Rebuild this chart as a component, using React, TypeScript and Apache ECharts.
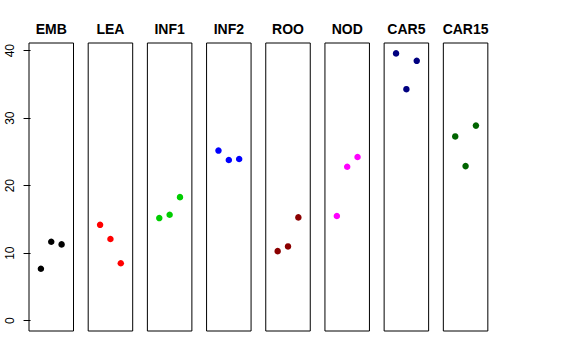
import React, { useEffect, useRef } from "react";
import * as echarts from "echarts";

const panels = ["EMB", "LEA", "INF1", "INF2", "ROO", "NOD", "CAR5", "CAR15"];
const colors = ["#000000", "#FF0000", "#00CD00", "#0000FF", "#8B0000", "#FF00FF", "#000080", "#006400"];
const positions = [1, 2, 3];
const values: number[][] = [
  [7.7, 11.7, 11.3],
  [14.2, 12.1, 8.5],
  [15.2, 15.7, 18.3],
  [25.2, 23.8, 23.95],
  [10.3, 11.0, 15.3],
  [15.5, 22.8, 24.25],
  [39.6, 34.3, 38.5],
  [27.3, 22.9, 28.9],
];
const yTicks = [0, 10, 20, 30, 40];

const FONT = '"Liberation Sans", Arial, Helvetica, sans-serif';

export default function App() {
  const ref = useRef<HTMLDivElement>(null);
  useEffect(() => {
    if (!ref.current) return;
    const chart = echarts.init(ref.current, undefined, { renderer: "svg" });
    const left0 = 29;
    const step = 59.19;
    const w = 44.5;
    const top = 43;
    const h = 288;
    const grids: any[] = [];
    const xAxes: any[] = [];
    const yAxes: any[] = [];
    const series: any[] = [];
    const graphics: any[] = [];
    panels.forEach((name, i) => {
      const left = left0 + step * i;
      grids.push({
        left,
        top,
        width: w,
        height: h,
        show: true,
        borderColor: "#000",
        borderWidth: 1,
        backgroundColor: "transparent",
      });
      xAxes.push({
        type: "value",
        gridIndex: i,
        min: -0.15,
        max: 4.15,
        show: false,
        splitLine: { show: false },
      });
      yAxes.push({
        type: "value",
        gridIndex: i,
        min: -1.53,
        max: 41.14,
        show: i === 0,
        splitLine: { show: false },
        axisLine: { show: false },
        axisTick: {
          show: i === 0,
          length: 7,
          lineStyle: { color: "#000", width: 1 },
          customValues: yTicks,
        },
        axisLabel: {
          show: i === 0,
          rotate: 90,
          margin: 13,
          color: "#000",
          fontSize: 12,
          fontFamily: FONT,
          customValues: yTicks,
        },
      });
      series.push({
        type: "scatter",
        name,
        xAxisIndex: i,
        yAxisIndex: i,
        symbol: "circle",
        symbolSize: 6.5,
        itemStyle: { color: colors[i], opacity: 1 },
        data: positions.map((p, j) => [p, values[i][j]]),
      });
      graphics.push({
        type: "text",
        x: left + w / 2,
        y: 29,
        style: {
          text: name,
          font: `bold 14px ${FONT}`,
          fill: "#000",
          textAlign: "center",
          textVerticalAlign: "middle",
          align: "center",
          verticalAlign: "middle",
        },
      });
    });
    chart.setOption({
      animation: false,
      backgroundColor: "#fff",
      grid: grids,
      xAxis: xAxes,
      yAxis: yAxes,
      series,
      graphic: graphics,
    });
    return () => chart.dispose();
  }, []);
  return <div ref={ref} style={{ width: 576, height: 360, position: "absolute", left: 0, top: 0 }} />;
}
